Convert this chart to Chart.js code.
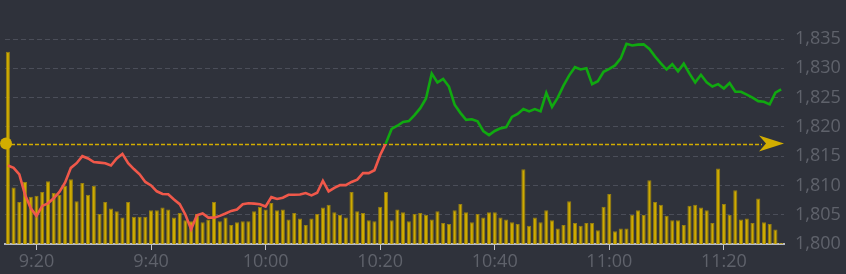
<!DOCTYPE html>
<html>
<head>
<meta charset="utf-8">
<script src="https://cdn.jsdelivr.net/npm/chart.js@4.4.1/dist/chart.umd.min.js"></script>
<style>
  html, body { margin: 0; padding: 0; background: #2f323b; }
  #wrap { width: 846px; height: 274px; position: relative; }
</style>
</head>
<body>
<div id="wrap"><canvas id="c" width="846" height="274"></canvas></div>
<script>
// ---- data ----
const startMinute = 9 * 60 + 15;   // 9:15
const endMinute = 11 * 60 + 30;    // 11:30
const times = [];
for (let m = startMinute; m <= endMinute; m++) {
  times.push(Math.floor(m / 60) + ':' + String(m % 60).padStart(2, '0'));
}
const tickLabels = ['9:20', '9:40', '10:00', '10:20', '10:40', '11:00', '11:20'];
const referencePrice = 1817.15;
const yTicks = [1800, 1805, 1810, 1815, 1820, 1825, 1830, 1835];

const prices = [
  1813.4, 1813.0, 1811.9, 1808.4, 1806.1, 1804.8, 1806.5, 1806.95, 1807.8, 1808.9,
  1810.5, 1813.0, 1813.8, 1815.0, 1814.6, 1814.0, 1813.9, 1813.8, 1813.4, 1814.6,
  1815.4, 1813.8, 1812.8, 1811.9, 1810.6, 1810.0, 1809.0, 1808.55, 1808.5, 1807.6,
  1806.8, 1805.0, 1802.5, 1804.9, 1805.2, 1804.5, 1804.5, 1804.8, 1805.2, 1805.65,
  1805.9, 1806.8, 1806.95, 1806.9, 1806.8, 1806.4, 1808.0, 1807.7, 1807.9, 1808.4,
  1808.4, 1808.45, 1808.7, 1808.3, 1808.75, 1810.8, 1809.0, 1809.6, 1810.05, 1810.05,
  1810.6, 1811.0, 1812.1, 1812.1, 1812.6, 1815.2, 1817.2, 1819.65, 1820.2, 1820.85,
  1821.0, 1822.0, 1823.2, 1824.85, 1829.1, 1827.6, 1828.2, 1826.9, 1823.8, 1822.4,
  1821.2, 1821.3, 1820.95, 1819.3, 1818.6, 1819.3, 1819.75, 1819.95, 1821.7, 1822.2,
  1823.05, 1822.65, 1823.05, 1822.65, 1825.8, 1823.4, 1825.0, 1827.05, 1828.8, 1830.2,
  1829.8, 1830.0, 1827.3, 1827.8, 1829.4, 1829.9, 1830.5, 1831.7, 1834.2, 1833.9,
  1834.05, 1834.1, 1833.3, 1832.0, 1830.85, 1829.8, 1830.7, 1829.5, 1830.8, 1829.1,
  1827.6, 1828.9, 1827.6, 1826.9, 1827.3, 1826.55, 1827.5, 1826.0, 1826.0, 1825.5,
  1825.0, 1824.4, 1824.3, 1823.85, 1825.85, 1826.4
];

const volumes = [
  211, 62, 46, 68, 52, 53, 57, 69, 56, 54,
  64, 71, 47, 67, 54, 64, 33, 46, 39, 36,
  29, 46, 30, 30, 30, 37, 37, 40, 38, 29,
  34, 26, 25, 33, 24, 27, 46, 25, 29, 21,
  24, 25, 25, 36, 41, 38, 45, 37, 38, 27,
  34, 28, 21, 28, 33, 40, 43, 35, 32, 29,
  57, 36, 34, 26, 25, 41, 57, 26, 38, 35,
  25, 33, 34, 32, 27, 36, 23, 22, 37, 44,
  35, 24, 33, 29, 35, 35, 29, 27, 24, 22,
  82, 20, 29, 24, 37, 26, 17, 21, 47, 23,
  20, 23, 23, 15, 41, 55, 14, 17, 17, 32,
  37, 32, 70, 46, 43, 31, 26, 26, 21, 42,
  43, 40, 37, 23, 83, 44, 32, 59, 27, 28,
  23, 50, 24, 22, 16, 1
];

// ---- styles ----
const GREEN = '#10a910';
const RED = '#f0584a';
const GOLD = '#d2ad00';
const GRID = '#4b4e59';
const LABEL = '#5f626b';

const refPlugin = {
  id: 'refLine',
  beforeDatasetsDraw(chart) {
    const { ctx, chartArea, scales } = chart;
    const y = Math.round(scales.y.getPixelForValue(referencePrice)) + 0.5;
    ctx.save();
    ctx.strokeStyle = GOLD;
    ctx.lineWidth = 1.5;
    ctx.setLineDash([4, 2]);
    ctx.beginPath();
    ctx.moveTo(chartArea.left, y);
    ctx.lineTo(chartArea.right - 22, y);
    ctx.stroke();
    ctx.restore();
  },
  afterDatasetsDraw(chart) {
    const { ctx, chartArea, scales } = chart;
    const y = scales.y.getPixelForValue(referencePrice);
    ctx.save();
    ctx.fillStyle = GOLD;
    ctx.beginPath();
    ctx.arc(chartArea.left + 1, y, 6, 0, Math.PI * 2);
    ctx.fill();
    const r = chartArea.right;
    ctx.beginPath();
    ctx.moveTo(r, y);
    ctx.lineTo(r - 25, y - 8);
    ctx.lineTo(r - 18, y);
    ctx.lineTo(r - 25, y + 8);
    ctx.closePath();
    ctx.fill();
    ctx.restore();
  }
};

function lineColor(context) {
  const chart = context.chart;
  const { ctx, chartArea, scales } = chart;
  if (!chartArea) return RED;
  const yRef = scales.y.getPixelForValue(referencePrice);
  const g = ctx.createLinearGradient(0, chartArea.top, 0, chartArea.bottom);
  let t = (yRef - chartArea.top) / (chartArea.bottom - chartArea.top);
  t = Math.min(1, Math.max(0, t));
  g.addColorStop(0, GREEN);
  g.addColorStop(t, GREEN);
  g.addColorStop(t, RED);
  g.addColorStop(1, RED);
  return g;
}

new Chart(document.getElementById('c'), {
  type: 'bar',
  data: {
    labels: times,
    datasets: [
      {
        type: 'line',
        data: prices,
        yAxisID: 'y',
        borderColor: lineColor,
        borderWidth: 2.6,
        pointRadius: 0,
        tension: 0,
        order: 0
      },
      {
        type: 'bar',
        data: volumes,
        yAxisID: 'y2',
        backgroundColor: '#cfab00',
        borderColor: '#967f10',
        borderWidth: 1,
        barPercentage: 0.72,
        categoryPercentage: 1.0,
        order: 1
      }
    ]
  },
  options: {
    responsive: false,
    animation: false,
    devicePixelRatio: 1,
    layout: { padding: { left: 5, right: 0, top: 0, bottom: 0 } },
    plugins: { legend: { display: false }, tooltip: { enabled: false } },
    scales: {
      x: {
        type: 'category',
        offset: true,
        grid: {
          offset: false,
          drawOnChartArea: false,
          drawTicks: true,
          tickLength: 6,
          color: (c) => (c.tick && tickLabels.includes(c.tick.label)) ? '#c4c6cc' : 'rgba(0,0,0,0)',
          lineWidth: 1
        },
        border: { display: true, color: '#b9bbc2', width: 2 },
        ticks: {
          autoSkip: false,
          maxRotation: 0,
          minRotation: 0,
          padding: 1,
          color: LABEL,
          font: { family: 'Open Sans', size: 18 },
          callback: function (value) {
            const l = times[value];
            return tickLabels.includes(l) ? l : '';
          }
        },
        afterFit: (s) => { s.height = 30; }
      },
      y: {
        position: 'right',
        min: 1800,
        max: 1837.95,
        afterBuildTicks: (s) => { s.ticks = yTicks.map(v => ({ value: v })); },
        grid: {
          color: (c) => c.tick && c.tick.value === 1800 ? 'rgba(0,0,0,0)' : GRID,
          lineWidth: 1,
          drawTicks: false
        },
        border: { display: false, dash: [5, 3] },
        ticks: {
          padding: 11,
          color: LABEL,
          font: { family: 'Open Sans', size: 18 },
          callback: (v) => v.toLocaleString('en-US')
        },
        afterFit: (s) => { s.width = 62; }
      },
      y2: {
        display: false,
        min: 0,
        max: 244
      }
    }
  },
  plugins: [refPlugin]
});
</script>
</body>
</html>
